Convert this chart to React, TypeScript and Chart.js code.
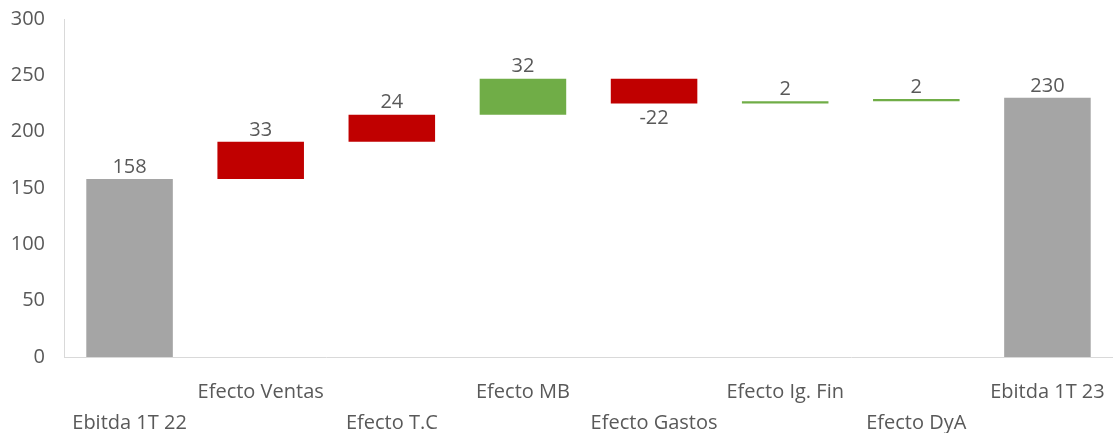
import React, { useEffect, useRef } from "react";
import { Chart, registerables } from "chart.js";

Chart.register(...registerables);

const categories = [
  "Ebitda 1T 22",
  "Efecto Ventas",
  "Efecto T.C",
  "Efecto MB",
  "Efecto Gastos",
  "Efecto Ig. Fin",
  "Efecto DyA",
  "Ebitda 1T 23",
];
// displayed values (totals for first/last, deltas for the rest)
const values = [158, 33, 24, 32, -22, 2, 2, 230];
const isTotal = [true, false, false, false, false, false, false, true];
const barColors = ["#A5A5A5", "#C00000", "#C00000", "#70AD47", "#C00000", "#70AD47", "#70AD47", "#A5A5A5"];
const yTicks = [0, 50, 100, 150, 200, 250, 300];

const FONT = "'Open Sans', sans-serif";
const TEXT = "#595959";

export default function App() {
  const ref = useRef<HTMLCanvasElement>(null);
  useEffect(() => {
    if (!ref.current) return;
    let run = 0;
    const ranges = values.map((v, i) => {
      if (isTotal[i]) {
        run = v;
        return [0, v];
      }
      const start = run;
      run = run + v;
      return [start, run];
    });

    const labelPlugin = {
      id: "wfLabels",
      afterDatasetsDraw(chart: any) {
        const ctx = chart.ctx;
        const meta = chart.getDatasetMeta(0);
        ctx.save();
        ctx.font = `20px ${FONT}`;
        ctx.fillStyle = TEXT;
        ctx.textAlign = "center";
        meta.data.forEach((el: any, i: number) => {
          const r = ranges[i];
          const top = chart.scales.y.getPixelForValue(Math.max(r[0], r[1]));
          const bot = chart.scales.y.getPixelForValue(Math.min(r[0], r[1]));
          if (values[i] < 0) {
            ctx.textBaseline = "top";
            ctx.fillText(String(values[i]), el.x, bot + 5);
          } else {
            ctx.textBaseline = "bottom";
            ctx.fillText(String(values[i]), el.x, top - 2);
          }
        });
        ctx.restore();
      },
    };

    const chart = new Chart(ref.current, {
      type: "bar",
      data: {
        labels: categories,
        datasets: [
          {
            data: ranges as any,
            backgroundColor: barColors,
            borderWidth: 0,
            barPercentage: 0.66,
            categoryPercentage: 1,
            borderSkipped: false,
          },
        ],
      },
      options: {
        animation: false,
        responsive: true,
        maintainAspectRatio: false,
        layout: { padding: { top: 19, right: 0, left: 0, bottom: 0 } },
        plugins: { legend: { display: false }, tooltip: { enabled: false } },
        scales: {
          x: {
            afterFit: (s: any) => {
              s.height = 76;
              s.paddingLeft = 0;
              s.paddingRight = 0;
            },
            grid: { display: false, drawTicks: false },
            border: { color: "#D9D9D9", width: 1 },
            ticks: {
              color: TEXT,
              font: { family: FONT, size: 20, lineHeight: "31px" },
              maxRotation: 0,
              autoSkip: false,
              padding: 20,
              callback: (_v: any, i: number) => (i % 2 === 0 ? ["", categories[i]] : [categories[i], ""]),
            },
          },
          y: {
            min: 0,
            max: 300,
            afterFit: (s: any) => {
              s.width = 64;
              s.paddingTop = 0;
              s.paddingBottom = 0;
            },
            afterBuildTicks: (s: any) => {
              s.ticks = yTicks.map((v) => ({ value: v }));
            },
            grid: { display: false, drawTicks: false },
            border: { color: "#D9D9D9", width: 1 },
            ticks: {
              color: TEXT,
              font: { family: FONT, size: 20 },
              padding: 19,
            },
          },
        },
      },
      plugins: [labelPlugin],
    });
    return () => chart.destroy();
  }, []);
  return (
    <div style={{ position: "absolute", left: 0, top: 0, width: 1113, height: 433 }}>
      <canvas ref={ref} />
    </div>
  );
}
